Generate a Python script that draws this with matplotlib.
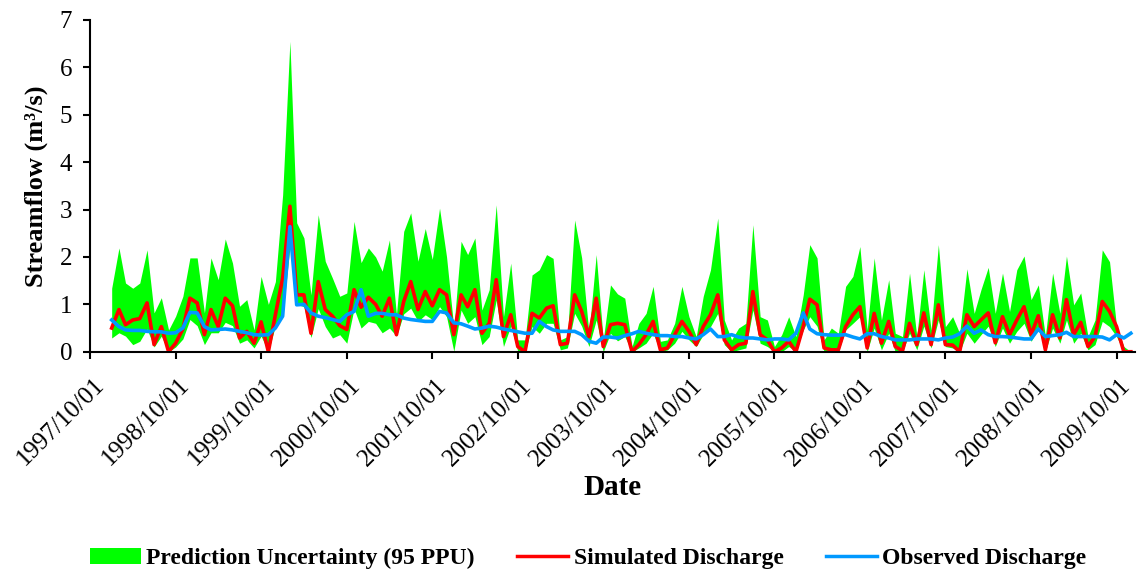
import matplotlib
matplotlib.use("Agg")
import matplotlib.pyplot as plt
import matplotlib.dates as mdates
import matplotlib.transforms as mtransforms
from matplotlib.patches import Patch
from matplotlib.lines import Line2D
import pandas as pd

dates = pd.date_range("1998-01-01", "2009-12-01", freq="MS")

upper = [1.34, 2.19, 1.45, 1.34, 1.45, 2.15, 0.82, 1.14, 0.46, 0.75, 1.17, 1.98,
         1.98, 0.82, 1.98, 1.52, 2.38, 1.87, 0.96, 1.10, 0.46, 1.59, 1.00, 1.48,
         3.31, 6.55, 2.72, 2.40, 1.20, 2.89, 1.91, 1.55, 1.17, 1.24, 2.75, 1.88,
         2.19, 2.00, 1.70, 2.36, 0.78, 2.54, 2.93, 1.91, 2.60, 1.95, 3.03, 2.00,
         0.50, 2.33, 2.05, 2.40, 0.88, 1.31, 3.10, 0.74, 1.87, 0.25, 0.25, 1.62,
         1.73, 2.05, 1.97, 0.25, 0.32, 2.78, 1.98, 0.39, 2.05, 0.25, 1.41, 1.22,
         1.13, 0.11, 0.60, 0.81, 1.38, 0.22, 0.25, 0.60, 1.38, 0.74, 0.32, 1.17,
         1.73, 2.82, 0.67, 0.25, 0.50, 0.60, 2.68, 0.74, 0.67, 0.11, 0.36, 0.74,
         0.32, 1.20, 2.26, 1.98, 0.25, 0.50, 0.39, 1.38, 1.59, 2.22, 0.46, 1.98,
         0.67, 1.52, 0.39, 0.32, 1.66, 0.32, 1.73, 0.46, 2.26, 0.53, 0.74, 0.39,
         1.75, 0.81, 1.31, 1.78, 0.81, 1.66, 0.85, 1.73, 2.02, 1.10, 1.41, 0.32,
         1.66, 0.81, 2.02, 0.99, 1.24, 0.32, 0.67, 2.15, 1.90, 0.53, 0.11, 0.00]

lower = [0.29, 0.40, 0.33, 0.15, 0.22, 0.48, 0.10, 0.33, 0.00, 0.10, 0.27, 0.68,
         0.55, 0.15, 0.40, 0.40, 0.62, 0.55, 0.18, 0.25, 0.08, 0.33, 0.00, 0.55,
         0.75, 2.20, 1.00, 0.95, 0.30, 0.91, 0.53, 0.29, 0.36, 0.18, 0.91, 0.50,
         0.64, 0.60, 0.40, 0.50, 0.33, 0.80, 0.92, 0.64, 0.78, 0.68, 0.95, 0.74,
         0.01, 0.88, 0.60, 0.74, 0.15, 0.32, 1.09, 0.11, 0.54, 0.01, 0.00, 0.53,
         0.39, 0.60, 0.60, 0.04, 0.08, 0.81, 0.54, 0.11, 0.67, 0.00, 0.39, 0.23,
         0.32, 0.00, 0.08, 0.18, 0.39, 0.00, 0.04, 0.18, 0.43, 0.25, 0.11, 0.36,
         0.53, 0.81, 0.15, 0.00, 0.04, 0.08, 0.88, 0.18, 0.11, 0.00, 0.00, 0.11,
         0.00, 0.46, 0.74, 0.54, 0.00, 0.00, 0.00, 0.46, 0.60, 0.74, 0.00, 0.50,
         0.04, 0.39, 0.00, 0.00, 0.39, 0.04, 0.54, 0.08, 0.67, 0.11, 0.08, 0.00,
         0.39, 0.18, 0.36, 0.54, 0.11, 0.50, 0.18, 0.43, 0.60, 0.22, 0.50, 0.00,
         0.50, 0.18, 0.67, 0.18, 0.39, 0.04, 0.15, 0.64, 0.53, 0.32, 0.00, 0.00]

simulated = [0.50, 0.89, 0.57, 0.67, 0.70, 1.03, 0.15, 0.53, 0.00, 0.18, 0.48, 1.13,
             1.03, 0.36, 0.89, 0.53, 1.13, 0.97, 0.29, 0.43, 0.18, 0.63, 0.00, 0.78,
             1.55, 3.07, 1.20, 1.20, 0.39, 1.48, 0.89, 0.75, 0.55, 0.47, 1.31, 0.94,
             1.15, 1.00, 0.75, 1.13, 0.36, 1.06, 1.48, 0.89, 1.27, 0.97, 1.31, 1.20,
             0.36, 1.20, 0.95, 1.31, 0.39, 0.60, 1.52, 0.32, 0.78, 0.11, 0.00, 0.81,
             0.71, 0.92, 0.97, 0.15, 0.18, 1.20, 0.85, 0.32, 1.13, 0.11, 0.57, 0.60,
             0.57, 0.00, 0.15, 0.36, 0.64, 0.04, 0.08, 0.36, 0.64, 0.43, 0.15, 0.53,
             0.78, 1.20, 0.25, 0.04, 0.15, 0.18, 1.27, 0.36, 0.25, 0.00, 0.08, 0.22,
             0.00, 0.53, 1.11, 0.99, 0.08, 0.04, 0.04, 0.53, 0.78, 0.95, 0.08, 0.81,
             0.18, 0.64, 0.11, 0.02, 0.60, 0.15, 0.82, 0.15, 0.99, 0.15, 0.14, 0.00,
             0.78, 0.53, 0.67, 0.82, 0.19, 0.74, 0.36, 0.67, 0.95, 0.36, 0.76, 0.04,
             0.78, 0.29, 1.10, 0.36, 0.62, 0.11, 0.32, 1.06, 0.85, 0.53, 0.00, 0.00]

observed = [0.67, 0.53, 0.46, 0.45, 0.45, 0.43, 0.42, 0.42, 0.39, 0.40, 0.50, 0.83,
            0.82, 0.53, 0.46, 0.47, 0.48, 0.46, 0.43, 0.40, 0.36, 0.35, 0.36, 0.50,
            0.75, 2.64, 0.99, 1.00, 0.82, 0.75, 0.72, 0.68, 0.64, 0.78, 0.85, 1.31,
            0.75, 0.81, 0.81, 0.78, 0.78, 0.71, 0.68, 0.66, 0.64, 0.64, 0.85, 0.82,
            0.61, 0.59, 0.54, 0.48, 0.50, 0.54, 0.52, 0.48, 0.45, 0.42, 0.39, 0.39,
            0.64, 0.53, 0.46, 0.43, 0.43, 0.43, 0.36, 0.22, 0.18, 0.31, 0.31, 0.29,
            0.34, 0.38, 0.43, 0.39, 0.36, 0.34, 0.34, 0.32, 0.32, 0.29, 0.27, 0.36,
            0.48, 0.32, 0.32, 0.36, 0.31, 0.29, 0.29, 0.27, 0.25, 0.27, 0.27, 0.25,
            0.39, 0.82, 0.48, 0.38, 0.36, 0.35, 0.35, 0.36, 0.31, 0.27, 0.38, 0.38,
            0.32, 0.29, 0.25, 0.25, 0.25, 0.27, 0.27, 0.27, 0.25, 0.29, 0.31, 0.38,
            0.54, 0.39, 0.46, 0.36, 0.32, 0.32, 0.31, 0.29, 0.27, 0.27, 0.48, 0.32,
            0.34, 0.36, 0.41, 0.32, 0.32, 0.32, 0.32, 0.31, 0.25, 0.36, 0.29, 0.39]

tick_dates = pd.date_range("1997-10-01", "2009-10-01", freq="12MS")
y_ticks = [0, 1, 2, 3, 4, 5, 6, 7]

GREEN = "#00FF00"
RED = "#FF0000"
BLUE = "#0099FF"
FONT = "Liberation Serif"

fig = plt.figure(figsize=(11.41, 5.71), dpi=100)
ax = fig.add_axes([0.079, 0.384, 0.916, 0.581])

ax.fill_between(dates, lower, upper, color=GREEN, linewidth=0)
ax.plot(dates, simulated, color=RED, linewidth=2.6)
ax.plot(dates, observed, color=BLUE, linewidth=2.6)

ax.set_xlim(pd.Timestamp("1997-10-01"), pd.Timestamp("2009-12-20"))
ax.set_ylim(0, 7)
ax.set_yticks(y_ticks)
ax.set_xticks(tick_dates)
ax.xaxis.set_major_formatter(mdates.DateFormatter("%Y/%m/%d"))

for s in ["top", "right"]:
    ax.spines[s].set_visible(False)
for s in ["left", "bottom"]:
    ax.spines[s].set_linewidth(1.5)
    ax.spines[s].set_color("black")

ax.tick_params(axis="both", direction="out", length=5, width=1.5, labelsize=18)
ax.tick_params(axis="x", pad=11)
ax.tick_params(axis="y", pad=8)
for lab in ax.get_yticklabels():
    lab.set_fontfamily(FONT)
offset = mtransforms.ScaledTranslation(3 / 100, 0, fig.dpi_scale_trans)
for lab in ax.get_xticklabels():
    lab.set_fontfamily(FONT)
    lab.set_rotation(45)
    lab.set_ha("right")
    lab.set_rotation_mode("anchor")
    lab.set_transform(lab.get_transform() + offset)

ax.set_ylabel("Streamflow (m\u00b3/s)", fontfamily=FONT, fontweight="bold", fontsize=19, labelpad=8)
ax.set_xlabel("Date", fontfamily=FONT, fontweight="bold", fontsize=21, labelpad=3)

handles = [Patch(facecolor=GREEN, edgecolor="none"),
           Line2D([0], [0], color=RED, linewidth=2.5),
           Line2D([0], [0], color=BLUE, linewidth=2.5)]
labels = ["Prediction Uncertainty (95 PPU)", "Simulated Discharge", "Observed Discharge"]
fig.legend(handles, labels, loc="center", bbox_to_anchor=(0.5155, 0.022), ncol=3,
           frameon=False, handlelength=2.16, columnspacing=1.8, handletextpad=0.22,
           prop={"family": FONT, "weight": "bold", "size": 17})

fig.savefig("out.png", dpi=100)
